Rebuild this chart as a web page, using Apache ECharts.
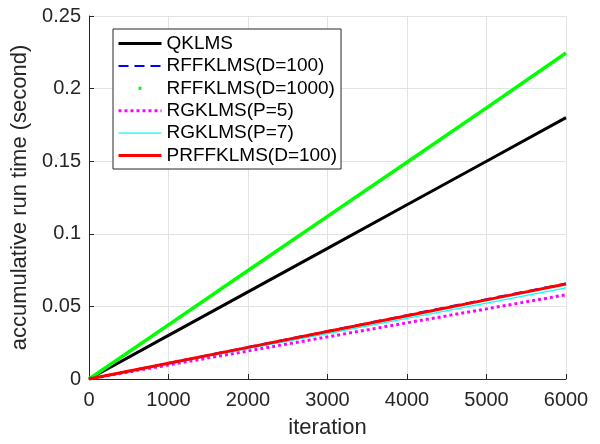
<!DOCTYPE html>
<html>
<head>
<meta charset="utf-8">
<script src="https://cdn.jsdelivr.net/npm/echarts@6/dist/echarts.min.js"></script>
<style>html,body{margin:0;padding:0;background:#fff}#c{width:600px;height:444px}</style>
</head>
<body>
<div id="c"></div>
<script>
var iterations = [0, 1000, 2000, 3000, 4000, 5000, 6000];
var seriesNames = ['QKLMS', 'RFFKLMS(D=100)', 'RFFKLMS(D=1000)', 'RGKLMS(P=5)', 'RGKLMS(P=7)', 'PRFFKLMS(D=100)'];
var qklms      = [0, 0.030, 0.060, 0.090, 0.120, 0.150, 0.180];
var rff100     = [0, 0.011, 0.022, 0.033, 0.044, 0.055, 0.0658];
var rff1000    = [0, 0.0373, 0.0747, 0.112, 0.1493, 0.1867, 0.2245];
var rg5        = [0, 0.0097, 0.0193, 0.029, 0.0387, 0.0483, 0.058];
var rg7        = [0, 0.0104, 0.0209, 0.0313, 0.0418, 0.0522, 0.0627];
var prff100    = [0, 0.0109, 0.0218, 0.0327, 0.0436, 0.0545, 0.0654];
var xTicks = [0, 1000, 2000, 3000, 4000, 5000, 6000];
var yTicks = [0, 0.05, 0.1, 0.15, 0.2, 0.25];

function pairs(v) { return iterations.map(function (x, i) { return [x, v[i]]; }); }

var FONT = "'Liberation Sans', Arial, sans-serif";
var AX = '#262626';
var chart = echarts.init(document.getElementById('c'), null, { renderer: 'canvas' });

function mk(name, data, color, width, type) {
  return {
    name: name, type: 'line', data: pairs(data), symbol: 'none', animation: false,
    lineStyle: { color: color, width: width, type: type || 'solid' },
    itemStyle: { color: color }
  };
}
var hidden = { color: 'rgba(0,0,0,0)', borderColor: 'rgba(0,0,0,0)', borderWidth: 0 };

chart.setOption({
  animation: false,
  backgroundColor: '#fff',
  grid: { left: 89, right: 34, top: 16, bottom: 61, containLabel: false },
  xAxis: {
    type: 'value', min: xTicks[0], max: xTicks[xTicks.length - 1], interval: 1000,
    name: 'iteration', nameLocation: 'middle', nameGap: 38,
    nameTextStyle: { color: AX, fontSize: 22, fontFamily: FONT },
    axisLine: { show: true, lineStyle: { color: AX, width: 1 } },
    axisTick: { show: true, inside: true, length: 5, lineStyle: { color: AX } },
    axisLabel: { color: AX, fontSize: 20, fontFamily: FONT, margin: 11,
      formatter: function (v) { return String(v); } },
    splitLine: { show: true, lineStyle: { color: '#e3e3e3', width: 1 } }
  },
  yAxis: {
    type: 'value', min: yTicks[0], max: yTicks[yTicks.length - 1], interval: 0.05,
    name: 'accumulative run time (second)', nameLocation: 'middle', nameGap: 52,
    nameTextStyle: { color: AX, fontSize: 22, fontFamily: FONT },
    axisLine: { show: true, lineStyle: { color: AX, width: 1 } },
    axisTick: { show: true, inside: true, length: 5, lineStyle: { color: AX } },
    axisLabel: { color: AX, fontSize: 20, fontFamily: FONT, margin: 8,
      formatter: function (v) { return String(+v.toFixed(4)); } },
    splitLine: { show: true, lineStyle: { color: '#e3e3e3', width: 1 } }
  },
  legend: {
    orient: 'vertical', left: 113, top: 29,
    padding: [5, 4, 4, 4],
    itemGap: 3.4, itemWidth: 43, itemHeight: 14,
    backgroundColor: '#fff', borderColor: AX, borderWidth: 1, borderRadius: 0,
    textStyle: { color: '#000', fontSize: 19, fontFamily: FONT },
    lineStyle: { width: 'inherit', type: 'inherit' },
    data: [
      { name: seriesNames[0], itemStyle: hidden },
      { name: seriesNames[1], itemStyle: hidden },
      { name: seriesNames[2], icon: 'path://M0,0M43,14M20,5.5h3v3h-3z', itemStyle: { color: '#00ff00' } },
      { name: seriesNames[3], itemStyle: hidden },
      { name: seriesNames[4], itemStyle: hidden },
      { name: seriesNames[5], itemStyle: hidden }
    ]
  },
  series: [
    mk(seriesNames[0], qklms, '#000000', 3),
    mk(seriesNames[1], rff100, '#0000ff', 2, [10, 6]),
    mk(seriesNames[2], rff1000, '#00ff00', 3.5),
    mk(seriesNames[3], rg5, '#ff00ff', 3, [3, 3]),
    mk(seriesNames[4], rg7, '#00ffff', 1.2),
    mk(seriesNames[5], prff100, '#ff0000', 3)
  ]
});
</script>
</body>
</html>
